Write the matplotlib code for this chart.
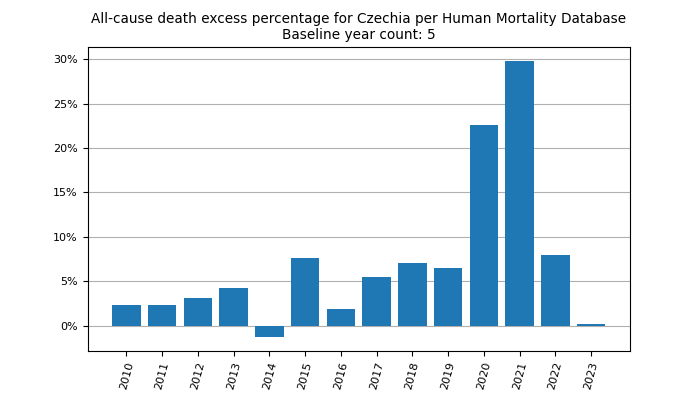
import numpy as np
import matplotlib
matplotlib.use('Agg')
import matplotlib.pyplot as plt
from matplotlib.ticker import PercentFormatter

# Excess death percentage per year
years = [2010, 2011, 2012, 2013, 2014, 2015, 2016,
         2017, 2018, 2019, 2020, 2021, 2022, 2023]
excess_pct = [2.37, 2.29, 3.12, 4.24, -1.24, 7.59, 1.95,
              5.52, 7.06, 6.50, 22.6, 29.78, 7.92, 0.26]

fig, ax = plt.subplots(figsize=(7, 3.94), dpi=100)
x = np.arange(len(years))
ax.bar(x, excess_pct, color='C0', zorder=3)
ax.set_xticks(x)
ax.set_xticklabels([str(y) for y in years], rotation=75)
ax.tick_params(labelsize=8)
ax.yaxis.set_major_formatter(PercentFormatter(decimals=0))
ax.grid(axis='y', color='#b0b0b0', zorder=0)
ax.set_title('All-cause death excess percentage for Czechia per Human Mortality Database\n'
             'Baseline year count: 5', fontsize=9.8)
fig.savefig('out.png', dpi=100)
